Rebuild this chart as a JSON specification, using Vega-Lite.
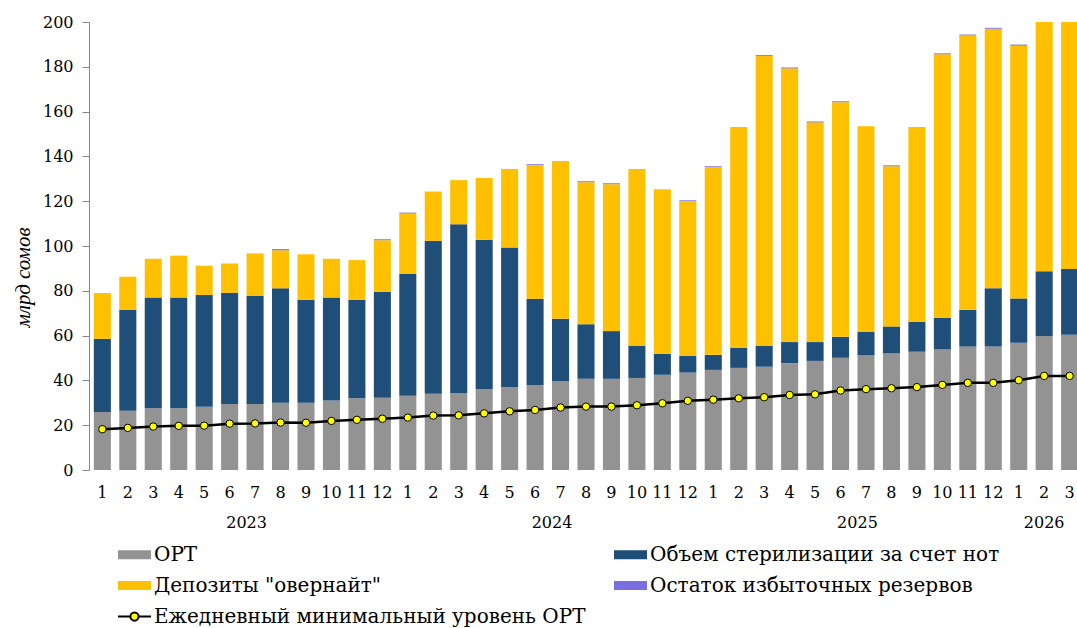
{
  "$schema": "https://vega.github.io/schema/vega-lite/v6.json",
  "width": 988,
  "height": 448,
  "autosize": {"type": "none"},
  "padding": {"left": 89, "top": 22, "right": 0, "bottom": 158},
  "background": "white",
  "config": {
    "view": {"stroke": null},
    "font": "DejaVu Serif",
    "axis": {"labelFont": "DejaVu Serif", "titleFont": "Liberation Serif"},
    "legend": {"labelFont": "DejaVu Serif"},
    "text": {"font": "DejaVu Serif"}
  },
  "datasets": {
    "months": [
      {"p": "2023-01", "ort": 25.9, "ster": 32.7, "ovn": 20.4, "exc": -0.3, "min": 18.2},
      {"p": "2023-02", "ort": 26.5, "ster": 45.0, "ovn": 14.8, "exc": -0.3, "min": 18.8},
      {"p": "2023-03", "ort": 27.6, "ster": 49.4, "ovn": 17.3, "exc": -0.4, "min": 19.4},
      {"p": "2023-04", "ort": 27.6, "ster": 49.4, "ovn": 18.7, "exc": -0.3, "min": 19.7},
      {"p": "2023-05", "ort": 28.2, "ster": 49.9, "ovn": 13.1, "exc": -0.4, "min": 19.8},
      {"p": "2023-06", "ort": 29.5, "ster": 49.6, "ovn": 13.1, "exc": -0.3, "min": 20.7},
      {"p": "2023-07", "ort": 29.5, "ster": 48.2, "ovn": 19.0, "exc": -0.3, "min": 20.8},
      {"p": "2023-08", "ort": 30.0, "ster": 51.1, "ovn": 17.0, "exc": 0.5, "min": 21.2},
      {"p": "2023-09", "ort": 30.0, "ster": 46.0, "ovn": 20.3, "exc": -0.3, "min": 21.1},
      {"p": "2023-10", "ort": 31.0, "ster": 46.0, "ovn": 17.3, "exc": -0.3, "min": 21.9},
      {"p": "2023-11", "ort": 32.0, "ster": 44.0, "ovn": 17.7, "exc": -0.3, "min": 22.4},
      {"p": "2023-12", "ort": 32.2, "ster": 47.4, "ovn": 23.0, "exc": 0.4, "min": 22.9},
      {"p": "2024-01", "ort": 33.1, "ster": 54.5, "ovn": 26.9, "exc": 0.4, "min": 23.4},
      {"p": "2024-02", "ort": 34.0, "ster": 68.3, "ovn": 22.0, "exc": -0.3, "min": 24.3},
      {"p": "2024-03", "ort": 34.4, "ster": 75.3, "ovn": 19.7, "exc": -0.3, "min": 24.4},
      {"p": "2024-04", "ort": 36.2, "ster": 66.6, "ovn": 27.6, "exc": -0.3, "min": 25.3},
      {"p": "2024-05", "ort": 37.1, "ster": 62.2, "ovn": 35.1, "exc": -0.3, "min": 26.2},
      {"p": "2024-06", "ort": 38.0, "ster": 38.5, "ovn": 59.6, "exc": 0.4, "min": 26.8},
      {"p": "2024-07", "ort": 39.7, "ster": 27.8, "ovn": 70.4, "exc": -0.3, "min": 27.9},
      {"p": "2024-08", "ort": 40.7, "ster": 24.4, "ovn": 63.4, "exc": 0.4, "min": 28.3},
      {"p": "2024-09", "ort": 40.7, "ster": 21.3, "ovn": 65.6, "exc": 0.4, "min": 28.3},
      {"p": "2024-10", "ort": 41.1, "ster": 14.3, "ovn": 79.0, "exc": -0.3, "min": 28.9},
      {"p": "2024-11", "ort": 42.5, "ster": 9.4, "ovn": 73.4, "exc": 0.0, "min": 29.8},
      {"p": "2024-12", "ort": 43.5, "ster": 7.5, "ovn": 69.0, "exc": 0.4, "min": 30.9},
      {"p": "2025-01", "ort": 44.7, "ster": 6.7, "ovn": 83.8, "exc": 0.4, "min": 31.4},
      {"p": "2025-02", "ort": 45.6, "ster": 8.9, "ovn": 98.6, "exc": 0.0, "min": 32.0},
      {"p": "2025-03", "ort": 46.1, "ster": 9.3, "ovn": 129.4, "exc": 0.4, "min": 32.5},
      {"p": "2025-04", "ort": 47.7, "ster": 9.4, "ovn": 122.2, "exc": 0.4, "min": 33.5},
      {"p": "2025-05", "ort": 48.7, "ster": 8.4, "ovn": 98.1, "exc": 0.4, "min": 33.8},
      {"p": "2025-06", "ort": 50.1, "ster": 9.4, "ovn": 104.7, "exc": 0.4, "min": 35.5},
      {"p": "2025-07", "ort": 51.3, "ster": 10.3, "ovn": 91.9, "exc": -0.3, "min": 36.1},
      {"p": "2025-08", "ort": 52.2, "ster": 11.9, "ovn": 71.5, "exc": 0.4, "min": 36.5},
      {"p": "2025-09", "ort": 52.8, "ster": 13.4, "ovn": 86.9, "exc": -0.3, "min": 37.0},
      {"p": "2025-10", "ort": 53.8, "ster": 14.2, "ovn": 117.6, "exc": 0.4, "min": 38.0},
      {"p": "2025-11", "ort": 55.1, "ster": 16.4, "ovn": 122.5, "exc": 0.4, "min": 38.9},
      {"p": "2025-12", "ort": 55.1, "ster": 26.0, "ovn": 115.9, "exc": 0.4, "min": 38.9},
      {"p": "2026-01", "ort": 56.8, "ster": 19.8, "ovn": 112.8, "exc": 0.5, "min": 40.1},
      {"p": "2026-02", "ort": 59.8, "ster": 28.9, "ovn": 115.0, "exc": 0.0, "min": 42.0},
      {"p": "2026-03", "ort": 60.4, "ster": 29.3, "ovn": 118.0, "exc": 0.0, "min": 42.0}
    ],
    "years": [
      {"p": "2023-07", "year": "2023"},
      {"p": "2024-07", "year": "2024"},
      {"p": "2025-07", "year": "2025"},
      {"p": "2026-02", "year": "2026"}
    ]
  },
  "layer": [
    {
      "data": {"name": "months"},
      "transform": [
        {"fold": ["ort", "ster", "ovn", "exc"], "as": ["s", "v"]},
        {"calculate": "indexof(['ort','ster','ovn','exc'], datum.s)", "as": "k"}
      ],
      "mark": {"type": "bar", "clip": true},
      "encoding": {
        "x": {
          "field": "p",
          "type": "nominal",
          "scale": {"range": [0, 994], "paddingInner": 0.33, "paddingOuter": 0.19},
          "axis": {
            "title": null,
            "labelExpr": "toNumber(slice(datum.value, 5))",
            "labelAngle": 0,
            "domain": false,
            "ticks": false,
            "tickSize": 0,
            "labelPadding": 14,
            "labelFontSize": 16,
            "labelFont": "DejaVu Serif",
            "labelColor": "black",
            "labelOverlap": false,
            "labelFlush": false
          }
        },
        "y": {
          "field": "v",
          "type": "quantitative",
          "stack": "zero",
          "title": "млрд сомов",
          "scale": {"domain": [0, 200], "nice": false},
          "axis": {
            "values": [0, 20, 40, 60, 80, 100, 120, 140, 160, 180, 200],
            "grid": false,
            "domainColor": "#868686",
            "tickColor": "#868686",
            "tickSize": 7,
            "labelPadding": 9,
            "labelFontSize": 16,
            "labelFont": "DejaVu Serif",
            "labelColor": "black",
            "titleFont": "Liberation Serif",
            "titleFontStyle": "italic",
            "titleFontWeight": "normal",
            "titleFontSize": 21,
            "titleColor": "black",
            "titleAngle": 270,
            "titleAlign": "center",
            "titleBaseline": "middle",
            "titleX": -66,
            "titleY": 255
          }
        },
        "color": {
          "field": "s",
          "type": "nominal",
          "scale": {
            "domain": ["ort", "ster", "ovn", "exc", "min"],
            "range": ["#939393", "#1F4E79", "#FFC000", "#7A6FE0", "#FFFF00"]
          },
          "legend": {
            "title": null,
            "orient": "none",
            "direction": "horizontal",
            "legendX": 28,
            "legendY": 515,
            "columns": 2,
            "columnPadding": 24,
            "rowPadding": 3,
            "labelFont": "DejaVu Serif",
            "labelFontSize": 20,
            "labelColor": "black",
            "labelLimit": 700,
            "labelOffset": 2,
            "symbolSize": 1089,
            "symbolType": "M-1,-0.27H1V0.27H-1Z",
            "symbolStrokeWidth": 2,
            "labelExpr": "({'ort': 'ОРТ', 'ster': 'Объем стерилизации за счет нот', 'ovn': 'Депозиты \"овернайт\"', 'exc': 'Остаток избыточных резервов', 'min': 'Ежедневный минимальный уровень ОРТ'})[datum.value]",
            "encode": {
              "symbols": {
                "update": {
                  "shape": {"signal": "datum.value === 'min' ? 'M-1,0H-0.27M0.27,0H1M0.25,0A0.25,0.25,0,1,1,-0.25,0A0.25,0.25,0,1,1,0.25,0Z' : 'M-1,-0.27H1V0.27H-1Z'"},
                  "stroke": {"signal": "datum.value === 'min' ? 'black' : 'transparent'"},
                  "strokeWidth": {"value": 2}
                }
              }
            }
          }
        },
        "order": {"field": "k", "type": "quantitative"}
      }
    },
    {
      "data": {"name": "months"},
      "mark": {"type": "line", "color": "black", "strokeWidth": 2.5},
      "encoding": {
        "x": {"field": "p", "type": "nominal"},
        "y": {"field": "min", "type": "quantitative", "title": "млрд сомов"}
      }
    },
    {
      "data": {"name": "months"},
      "mark": {"type": "point", "filled": true, "fill": "#FFFF00", "stroke": "black", "strokeWidth": 1, "size": 55, "opacity": 1},
      "encoding": {
        "x": {"field": "p", "type": "nominal"},
        "y": {"field": "min", "type": "quantitative", "title": "млрд сомов"}
      }
    },
    {
      "data": {"name": "years"},
      "transform": [{"filter": "datum.year !== '2026'"}],
      "mark": {"type": "text", "font": "DejaVu Serif", "fontSize": 16, "color": "black", "baseline": "middle", "align": "center"},
      "encoding": {
        "x": {"field": "p", "type": "nominal", "bandPosition": 0},
        "y": {"value": 501},
        "text": {"field": "year"}
      }
    },
    {
      "data": {"name": "years"},
      "transform": [{"filter": "datum.year === '2026'"}],
      "mark": {"type": "text", "font": "DejaVu Serif", "fontSize": 16, "color": "black", "baseline": "middle", "align": "center"},
      "encoding": {
        "x": {"field": "p", "type": "nominal", "bandPosition": 0.5},
        "y": {"value": 501},
        "text": {"field": "year"}
      }
    }
  ]
}
